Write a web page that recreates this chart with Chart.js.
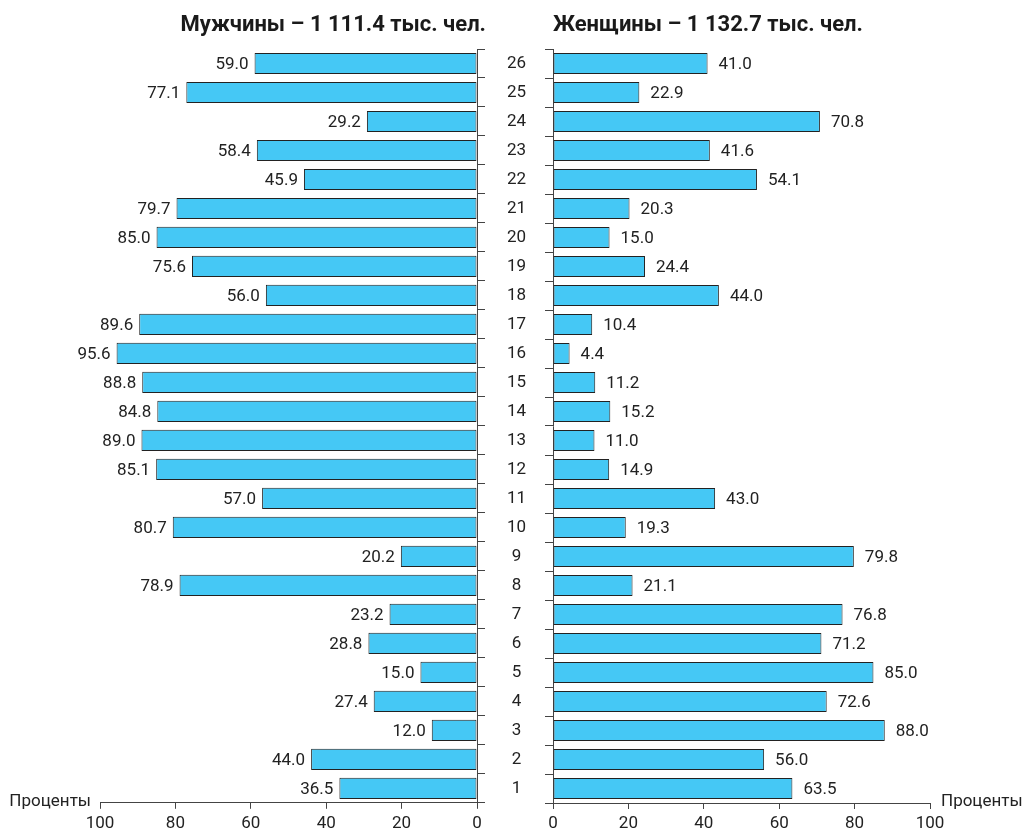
<!DOCTYPE html>
<html>
<head>
<meta charset="utf-8">
<script src="https://cdn.jsdelivr.net/npm/chart.js@4/dist/chart.umd.min.js"></script>
<style>
    body { margin: 0; background: #fff; }
    #wrap { position: relative; width: 1024px; height: 835px; }
    .box { position: absolute; top: 0; height: 835px; }
</style>
</head>
<body>
<div id="wrap">
    <div class="box" style="left:0;width:537px"><canvas id="chartMen"></canvas></div>
    <div class="box" style="left:537px;width:487px"><canvas id="chartWomen"></canvas></div>
</div>
<script>
var categories = ["1","2","3","4","5","6","7","8","9","10","11","12","13","14","15","16","17","18","19","20","21","22","23","24","25","26"];
var menValues = [36.5, 44.0, 12.0, 27.4, 15.0, 28.8, 23.2, 78.9, 20.2, 80.7, 57.0, 85.1, 89.0, 84.8, 88.8, 95.6, 89.6, 56.0, 75.6, 85.0, 79.7, 45.9, 58.4, 29.2, 77.1, 59.0];
var womenValues = [63.5, 56.0, 88.0, 72.6, 85.0, 71.2, 76.8, 21.1, 79.8, 19.3, 43.0, 14.9, 11.0, 15.2, 11.2, 4.4, 10.4, 44.0, 24.4, 15.0, 20.3, 54.1, 41.6, 70.8, 22.9, 41.0];
var xTicks = [0, 20, 40, 60, 80, 100];
var menTitle = "Мужчины – 1 111.4 тыс. чел.";
var womenTitle = "Женщины – 1 132.7 тыс. чел.";
var axisName = "Проценты";

var FONT = "Roboto, 'Liberation Sans', sans-serif";
var barColor = "#45c8f5";
var lineColor = "#444";
var textColor = "#222";

Chart.defaults.font.family = FONT;
Chart.defaults.font.size = 17;
Chart.defaults.color = textColor;

// valeurs a cote des barres + titre + "Проценты"
var extras = {
    id: "extras",
    afterDatasetsDraw: function (chart, args, opts) {
        var ctx = chart.ctx;
        var area = chart.chartArea;
        var meta = chart.getDatasetMeta(0);
        var data = chart.data.datasets[0].data;
        ctx.save();
        ctx.font = "17px " + FONT;
        ctx.fillStyle = textColor;
        ctx.textBaseline = "middle";
        meta.data.forEach(function (bar, i) {
            if (opts.side == "left") {
                ctx.textAlign = "right";
                ctx.fillText(data[i].toFixed(1), bar.x - 6, bar.y + 1);
            } else {
                ctx.textAlign = "left";
                ctx.fillText(data[i].toFixed(1), bar.x + 11, bar.y + 1);
            }
        });
        var xs = chart.scales.x;
        if (opts.side == "left") {
            ctx.textAlign = "right";
            ctx.fillText(axisName, area.left - 9, xs.top - 1);
        } else {
            ctx.textAlign = "left";
            ctx.fillText(axisName, area.right + 11, xs.top - 1);
        }
        ctx.font = "bold 22px " + FONT;
        ctx.fillStyle = "#1a1a1a";
        if (opts.side == "left") {
            ctx.textAlign = "right";
            ctx.fillText(opts.title, area.right + 9, 25);
        } else {
            ctx.textAlign = "left";
            ctx.fillText(opts.title, area.left, 25);
        }
        ctx.restore();
    }
};

function makeChart(id, values, side, title) {
    var isLeft = side == "left";
    return new Chart(document.getElementById(id), {
        type: "bar",
        data: {
            labels: categories,
            datasets: [{
                data: values,
                backgroundColor: barColor,
                borderColor: "#222",
                borderWidth: 1,
                borderSkipped: false,
                barPercentage: 0.73,
                categoryPercentage: 1
            }]
        },
        plugins: [extras],
        options: {
            indexAxis: "y",
            responsive: true,
            maintainAspectRatio: false,
            animation: false,
            devicePixelRatio: 1,
            layout: {
                padding: isLeft ? { left: 100, right: 0, top: 49, bottom: 0 } : { left: 0, right: 94, top: 49, bottom: 0 }
            },
            plugins: {
                legend: { display: false },
                tooltip: { enabled: false },
                extras: { side: side, title: title }
            },
            scales: {
                x: {
                    reverse: isLeft,
                    min: 0,
                    max: 100,
                    afterBuildTicks: function (s) {
                        s.ticks = xTicks.map(function (v) { return { value: v }; });
                    },
                    afterFit: function (s) { s.height = 32; },
                    ticks: { padding: 5, maxRotation: 0, color: textColor },
                    grid: { drawOnChartArea: false, drawTicks: true, tickLength: 6, color: lineColor },
                    border: { display: true, color: lineColor }
                },
                y: {
                    reverse: true,
                    position: isLeft ? "right" : "left",
                    afterFit: function (s) { s.width = isLeft ? 60 : 16; },
                    ticks: {
                        display: isLeft,
                        crossAlign: "center",
                        padding: 22,
                        color: textColor
                    },
                    grid: { offset: true, drawOnChartArea: false, drawTicks: true, tickLength: 8, color: lineColor },
                    border: { display: true, color: lineColor }
                }
            }
        }
    });
}

var chartMen = makeChart("chartMen", menValues, "left", menTitle);
var chartWomen = makeChart("chartWomen", womenValues, "right", womenTitle);
</script>
</body>
</html>
